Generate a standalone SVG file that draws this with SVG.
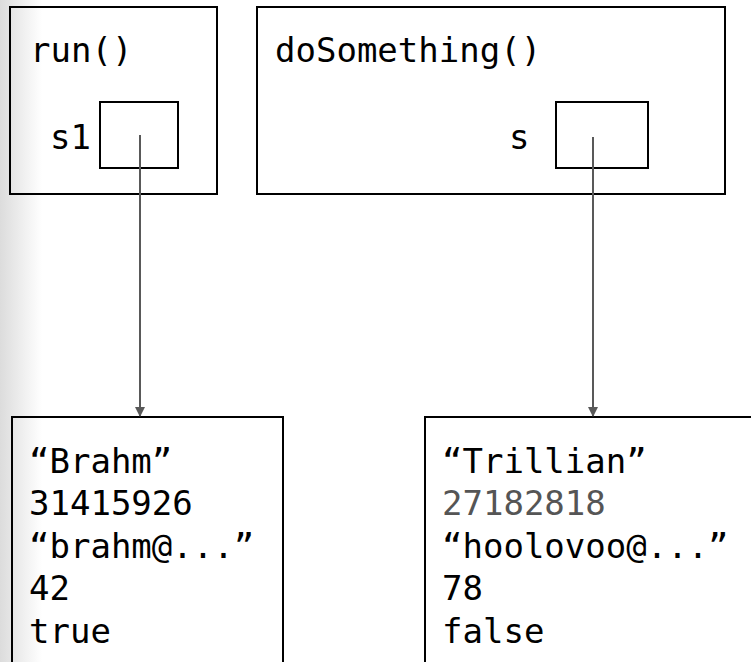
<svg xmlns="http://www.w3.org/2000/svg" width="751" height="662" viewBox="0 0 751 662">
<style>
.box{fill:none;stroke:#000;stroke-width:2}
.t{font-family:"DejaVu Sans Mono","Liberation Mono",monospace;font-size:34px;fill:#000}
.g{fill:#555}
.conn{stroke:#595959;stroke-width:2;fill:none}
</style>
<defs>
<linearGradient id="shade" x1="0" y1="0" x2="1" y2="0">
<stop offset="0" stop-color="#dcdcdc"/>
<stop offset="1" stop-color="#ffffff"/>
</linearGradient>
<marker id="arr" markerWidth="10" markerHeight="12" refX="9" refY="5" orient="auto" markerUnits="userSpaceOnUse">
<path d="M0,0 L10,5 L0,10 z" fill="#595959"/>
</marker>
</defs>
<rect x="0" y="0" width="751" height="662" fill="#fff"/>
<rect x="0" y="0" width="42" height="662" fill="url(#shade)"/>
<g id="run">
<rect class="box" x="10" y="7" width="207" height="187" fill="#fff"/>
<text class="t" x="30" y="62">run()</text>
<text class="t" x="50" y="149">s1</text>
<rect class="box" x="100" y="102" width="78" height="66"/>
</g>
<g id="doSomething">
<rect class="box" x="257" y="7" width="468" height="187"/>
<text class="t" x="275" y="62">doSomething()</text>
<text class="t" x="509" y="149">s</text>
<rect class="box" x="556" y="102" width="92" height="66"/>
</g>
<g id="brahm">
<rect class="box" x="12" y="417" width="271" height="260" fill="#fff"/>
<text class="t" x="29" y="473">“Brahm”</text>
<text class="t" x="29" y="515">31415926</text>
<text class="t" x="29" y="558">“brahm@...”</text>
<text class="t" x="29" y="600">42</text>
<text class="t" x="29" y="643">true</text>
</g>
<g id="trillian">
<rect class="box" x="425" y="417" width="340" height="260"/>
<text class="t" x="442" y="473">“Trillian”</text>
<text class="t g" x="442" y="515">27182818</text>
<text class="t" x="442" y="558">“hoolovoo@...”</text>
<text class="t" x="442" y="600">78</text>
<text class="t" x="442" y="643">false</text>
</g>
<g id="connectors">
<line class="conn" x1="140" y1="135" x2="140" y2="416" marker-end="url(#arr)"/>
<line class="conn" x1="593" y1="137" x2="593" y2="416" marker-end="url(#arr)"/>
</g>
</svg>
